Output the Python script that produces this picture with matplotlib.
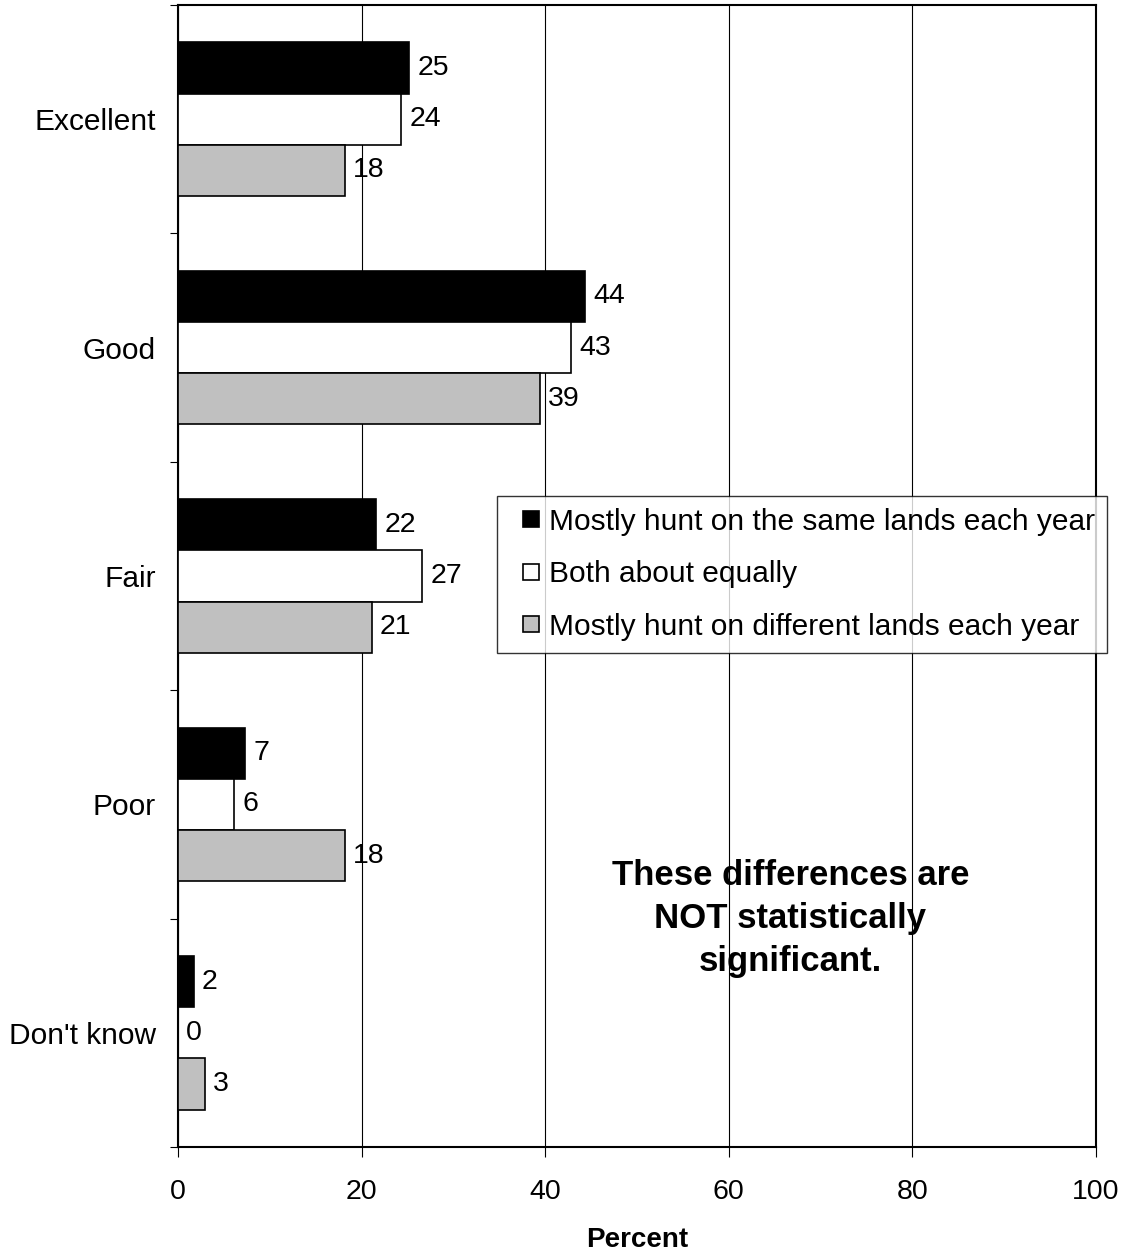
import matplotlib
matplotlib.use("Agg")
import matplotlib.pyplot as plt
from matplotlib.lines import Line2D
import numpy as np

plt.rcParams['font.family'] = ['Liberation Sans', 'DejaVu Sans']

categories = ["Excellent", "Good", "Fair", "Poor", "Don't know"]
series_names = ["Mostly hunt on the same lands each year",
                "Both about equally",
                "Mostly hunt on different lands each year"]
same_lands = [25.2, 44.3, 21.6, 7.3, 1.7]
both_equal = [24.3, 42.8, 26.6, 6.1, 0.0]
diff_lands = [18.2, 39.4, 21.1, 18.2, 2.9]
colors = ["#000000", "#ffffff", "#c0c0c0"]

fig = plt.figure(figsize=(11.3, 12.55), dpi=100)
ax = fig.add_axes([0.1575, 0.086, 0.8125, 0.910])

y = np.arange(len(categories)) + 0.5
h = 0.224
offsets = [-h, 0, h]
handles = []
for vals, off, col, name in zip([same_lands, both_equal, diff_lands], offsets, colors, series_names):
    ax.barh(y + off, vals, height=h, color=col, edgecolor='black', linewidth=1.2, zorder=3)
    handles.append(Line2D([], [], linestyle='none', marker='s', markersize=12,
                          markerfacecolor=col, markeredgecolor='black', markeredgewidth=1.2, label=name))
    for yy, v in zip(y + off, vals):
        ax.text(v + 0.9, yy, "%d" % round(v), va='center', ha='left', fontsize=20.5, zorder=4)

ax.set_xlim(0, 100)
ax.set_ylim(5, 0)
ax.set_xticks([0, 20, 40, 60, 80, 100])
ax.set_yticks(np.arange(0, 6))
ax.set_yticklabels([])
ax.set_yticks(y, minor=True)
ax.set_yticklabels(categories, minor=True, fontsize=21.5)
ax.tick_params(axis='y', which='minor', length=0, pad=16)
ax.tick_params(axis='y', which='major', length=6, direction='out')
ax.tick_params(axis='x', labelsize=20.5, length=7, direction='out', pad=16)
ax.grid(axis='x', color='black', linewidth=0.8, zorder=0)
for s in ax.spines.values():
    s.set_linewidth(1.5)
ax.set_xlabel("Percent", fontsize=20, fontweight='bold', labelpad=16)

ax.text(66.7, 4.0, "These differences are\nNOT statistically\nsignificant.",
        ha='center', va='center', fontsize=25, fontweight='bold', linespacing=1.38, zorder=5)

leg = fig.legend(handles=handles, loc='upper left', bbox_to_anchor=(0.4398, 0.6048),
                 fontsize=21.5, frameon=True, fancybox=False, handlelength=1.5,
                 handletextpad=-0.15, labelspacing=0.82, borderpad=0.4,
                 borderaxespad=0)
leg.get_frame().set_edgecolor('black')
leg.get_frame().set_linewidth(1.0)

fig.savefig("out.png", dpi=100)
